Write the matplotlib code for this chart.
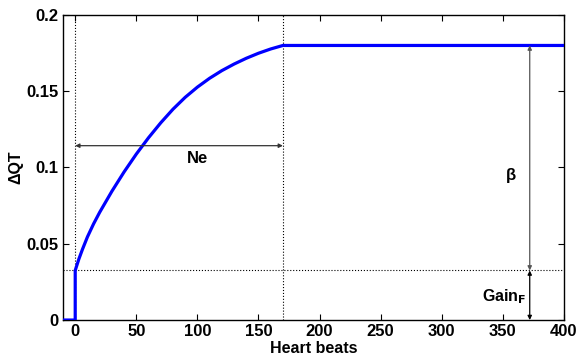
import matplotlib
matplotlib.use("Agg")
import matplotlib.pyplot as plt

plt.rcParams['font.family'] = ['Liberation Sans', 'DejaVu Sans']
plt.rcParams['font.weight'] = 'bold'

# Curve data
beats = [-10, 0, 0, 3, 6, 10, 15, 20, 30, 40, 50, 60, 70, 80, 90, 100,
         110, 120, 130, 140, 150, 160, 170, 400]
dqt = [0, 0, 0.0325, 0.0400, 0.0465, 0.0545, 0.0630, 0.0706, 0.0844, 0.0971,
       0.1088, 0.1195, 0.1293, 0.1382, 0.1460, 0.1527, 0.1585, 0.1635, 0.1678,
       0.1716, 0.1749, 0.1777, 0.18, 0.18]

gain_level = 0.0325
plateau = 0.18
ne_start, ne_end = 0, 170
ne_level = 0.1143
arrow_x = 372

xticks = [0, 50, 100, 150, 200, 250, 300, 350, 400]
yticks = [0, 0.05, 0.1, 0.15, 0.2]
ytick_labels = ['0', '0.05', '0.1', '0.15', '0.2']

fig = plt.figure(figsize=(5.79, 3.56), dpi=100)
ax = fig.add_axes([0.1088, 0.101, 0.974 - 0.1088, 0.958 - 0.101])

ax.set_xlim(-10, 400)
ax.set_ylim(0, 0.2)

# dotted reference lines
ax.axvline(ne_start, color='black', linestyle=':', linewidth=0.8)
ax.axvline(ne_end, color='black', linestyle=':', linewidth=0.8)
ax.axhline(gain_level, color='black', linestyle=':', linewidth=0.8)

ax.plot(beats, dqt, color='#0000ff', linewidth=2.3, solid_joinstyle='round', zorder=3)

# Ne arrow
ax.annotate('', xy=(ne_start, ne_level), xytext=(ne_end, ne_level),
            arrowprops=dict(arrowstyle='<|-|>', color='#333333', lw=0.9,
                            mutation_scale=6, shrinkA=0, shrinkB=0))
ax.text(100, 0.106, 'Ne', ha='center', va='center', fontsize=12, fontweight='bold')

# beta arrow
ax.annotate('', xy=(arrow_x, plateau), xytext=(arrow_x, gain_level),
            arrowprops=dict(arrowstyle='<|-|>', color='#555555', lw=0.9,
                            mutation_scale=6, shrinkA=0, shrinkB=0))
ax.text(357, 0.095, 'β', ha='center', va='center', fontsize=12, fontweight='bold')

# Gain arrow
ax.annotate('', xy=(arrow_x, gain_level), xytext=(arrow_x, 0),
            arrowprops=dict(arrowstyle='<|-|>', color='black', lw=0.9,
                            mutation_scale=6, shrinkA=0, shrinkB=0))
ax.text(369, 0.0155, r'Gain$_{\mathbf{F}}$', ha='right', va='center', fontsize=11.5, fontweight='bold')

ax.set_xticks(xticks)
ax.set_xticklabels([str(t) for t in xticks])
ax.set_yticks(yticks)
ax.set_yticklabels(ytick_labels)
ax.tick_params(direction='in', top=True, right=True, length=4, width=0.8, labelsize=12, pad=3)
for lbl in ax.get_xticklabels() + ax.get_yticklabels():
    lbl.set_fontweight('bold')
for s in ax.spines.values():
    s.set_linewidth(1.0)

ax.set_xlabel('Heart beats', fontsize=11.5, fontweight='bold', labelpad=1)
ax.set_ylabel('ΔQT', fontsize=11.5, fontweight='bold', labelpad=2)

fig.savefig('out.png', dpi=100)
